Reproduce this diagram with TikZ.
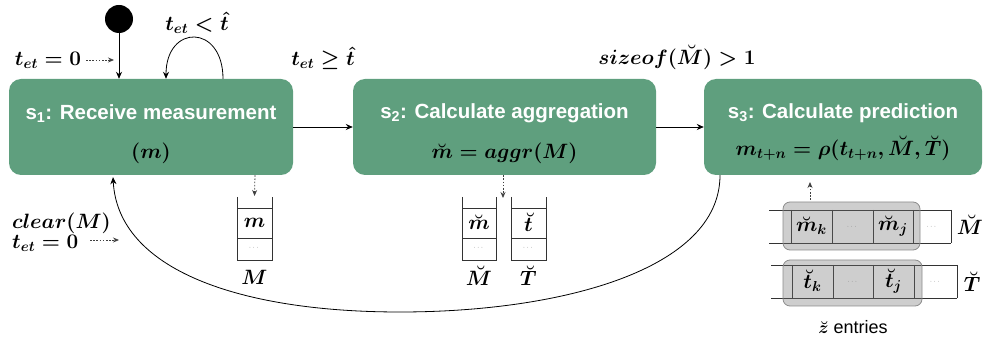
\documentclass[tikz,border=0pt]{standalone}
\usepackage{fontspec}
\usepackage{amsmath}
\setmainfont{Latin Modern Roman}
\setsansfont{Liberation Sans}
\usetikzlibrary{arrows.meta}
\definecolor{boxgreen}{RGB}{95,159,126}
\tikzset{
  statebox/.style={draw=none, fill=boxgreen, rounded corners=12pt, inner sep=0pt},
  titletext/.style={text=white, font=\sffamily\bfseries\fontsize{20.5}{24}\selectfont, inner sep=0pt},
  mathtext/.style={font=\fontsize{21}{25}\selectfont\boldmath, inner sep=0pt},
  celltext/.style={font=\fontsize{20}{24}\selectfont\boldmath, inner sep=0pt},
  dotstext/.style={font=\fontsize{7}{8}\selectfont, text=black!55, inner sep=0pt},
  arr/.style={-{Stealth[length=7pt,width=6pt]}, line width=0.8pt},
  dotarr/.style={-{Stealth[length=6pt,width=5pt]}, line width=0.8pt, draw=black!75, dash pattern=on 1.6pt off 1.6pt},
  stackline/.style={line width=0.8pt, draw=black!80},
  hilite/.style={draw=black!45, fill=black!55, fill opacity=0.35, rounded corners=7pt, line width=0.8pt},
}
\begin{document}
\begin{tikzpicture}[x=1pt,y=-1pt]
\useasboundingbox (0,0) rectangle (983,347);

% state boxes
\node[statebox, minimum width=284pt, minimum height=96pt] (s1) at (151,127) {};
\node[statebox, minimum width=303pt, minimum height=96pt] (s2) at (504.5,127) {};
\node[statebox, minimum width=278pt, minimum height=96pt] (s3) at (843,127) {};

\node[titletext] (s1t) at (151,114) {s\textsubscript{1}: Receive measurement};
\node[mathtext, text=black] (s1m) at (151,153) {$(m)$};
\node[titletext] (s2t) at (504.5,113) {s\textsubscript{2}: Calculate aggregation};
\node[mathtext, text=black] (s2m) at (504.5,153) {$\breve{m} = aggr(M)$};
\node[titletext] (s3t) at (843,113) {s\textsubscript{3}: Calculate prediction};
\node[mathtext, text=black] (s3m) at (843,148) {$m_{t+n} = \rho(t_{t+n}, \breve{M}, \breve{T})$};

% initial state
\node[circle, fill=black, minimum size=28pt, inner sep=0pt] (init) at (119,19) {};
\draw[arr] (init) -- (init |- s1.north);
\node[mathtext] (lbl0) at (48,60) {$t_{et} = 0$};
\coordinate (d0a) at (86,60);
\coordinate (d0b) at (114,60);
\draw[dotarr] (d0a) -- (d0b);

% self loop
\coordinate (la) at ([xshift=72pt]s1.north);
\coordinate (lb) at ([xshift=15pt]s1.north);
\draw[arr] (la) .. controls +(0,-55) and +(0,-55) .. (lb);
\node[mathtext] (lbl1) at (197,23) {$t_{et} < \hat{t}$};

% transitions
\draw[arr] (s1) -- (s2);
\node[mathtext] (lbl2) at (323,58) {$t_{et} \geq \hat{t}$};
\draw[arr] (s2) -- (s3);
\node[mathtext] (lbl3) at (677,57) {$sizeof(\breve{M}) > 1$};

% return curve
\coordinate (ra) at ([xshift=-123pt]s3.south);
\coordinate (rb) at (400,312);
\coordinate (rc) at ([xshift=-38pt,yshift=-2pt]s1.south);
\draw[arr] (ra) .. controls (720,270) and (560,312) .. (rb)
           .. controls (240,312) and (118,270) .. (rc);
\node[mathtext, align=left, anchor=west] (lbl4) at (12,232) {$clear(M)$\\[-5pt]$t_{et} = 0$};
\coordinate (d4a) at (90,240);
\coordinate (d4b) at (119,240);
\draw[dotarr] (d4a) -- (d4b);

% stack M
\coordinate (mTop) at (254.5,197);
\draw[stackline] (237,197) -- (237,260) -- (272,260) -- (272,197);
\draw[stackline] (237,208) -- (272,208);
\draw[stackline] (237,238) -- (272,238);
\node[celltext] (mc) at (254.5,223) {$m$};
\node[dotstext] (md) at (254.5,248) {$\cdots$};
\node[mathtext] (mlab) at (254.5,277) {$M$};
\draw[dotarr] ([xshift=104pt]s1.south) -- ([yshift=1pt]mTop);

% stacks M-breve, T-breve
\draw[stackline] (462,197) -- (462,260) -- (496,260) -- (496,197);
\draw[stackline] (462,208) -- (496,208);
\draw[stackline] (462,238) -- (496,238);
\node[celltext] (mbc) at (479,222) {$\breve{m}$};
\node[dotstext] (mbd) at (479,248) {$\cdots$};
\node[mathtext] (mblab) at (479,276) {$\breve{M}$};
\draw[stackline] (511,197) -- (511,260) -- (546,260) -- (546,197);
\draw[stackline] (511,208) -- (546,208);
\draw[stackline] (511,238) -- (546,238);
\node[celltext] (tbc) at (528.5,222) {$\breve{t}$};
\node[dotstext] (tbd) at (528.5,248) {$\cdots$};
\node[mathtext] (tblab) at (528.5,276) {$\breve{T}$};
\coordinate (s2drop) at (503,198);
\draw[dotarr] ([xshift=-1.5pt]s2.south) -- (s2drop);

% right arrays
\foreach \y in {210,243} \draw[stackline] (769,\y) -- (951,\y);
\foreach \x in {791,832,873,913,951} \draw[stackline] (\x,210) -- (\x,243);
\foreach \y in {265,298} \draw[stackline] (771,\y) -- (957,\y);
\foreach \x in {792,833,873,914,957} \draw[stackline] (\x,265) -- (\x,298);
\node[hilite, minimum width=137pt, minimum height=48pt] (hl1) at (851.5,226) {};
\node[hilite, minimum width=139pt, minimum height=46pt] (hl2) at (852.5,283) {};

\node[celltext] (ck) at (811.5,226) {$\breve{m}_k$};
\node[dotstext] (c2) at (852.5,227) {$\cdots$};
\node[celltext] (cj) at (893,226) {$\breve{m}_j$};
\node[dotstext] (c4) at (932,227) {$\cdots$};
\node[mathtext] (rlab1) at (970,225) {$\breve{M}$};
\node[celltext] (tk) at (812.5,281) {$\breve{t}_k$};
\node[dotstext] (t2) at (853,282) {$\cdots$};
\node[celltext] (tj) at (893.5,281) {$\breve{t}_j$};
\node[dotstext] (t4) at (935.5,282) {$\cdots$};
\node[mathtext] (rlab2) at (972,282) {$\breve{T}$};

\coordinate (upa) at (810,200);
\draw[dotarr] (upa) -- (810,182);
\node[font=\sffamily\fontsize{18}{22}\selectfont, inner sep=0pt] (zent) at (853,327) {$\boldsymbol{\breve{z}}$ entries};
\end{tikzpicture}
\end{document}
